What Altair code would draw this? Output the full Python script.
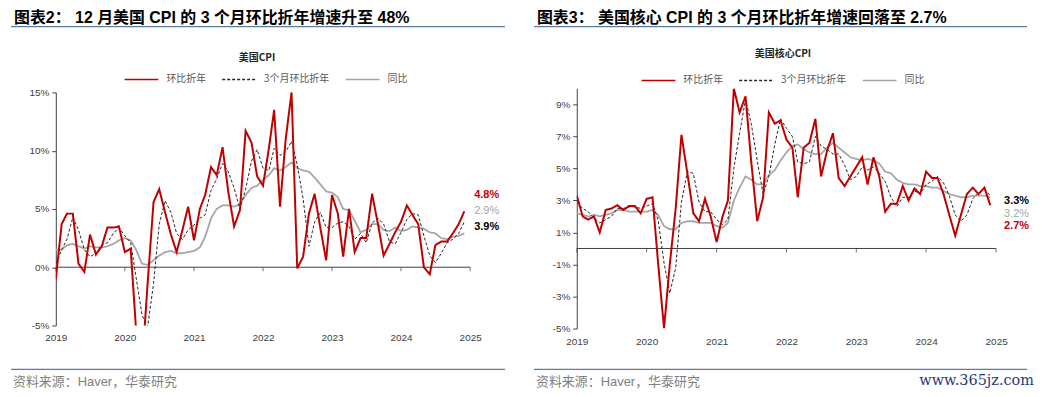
import altair as alt
import pandas as pd

# ---------------- data ----------------
months = pd.date_range("2019-01-01", periods=72, freq="MS")
year_ticks = pd.date_range("2019-01-01", "2025-01-01", freq="YS")

series_names = ["环比折年", "3个月环比折年", "同比"]
series_colors = ["#c00000", "#262626", "#a6a6a6"]
series_dash = [[1, 0], [3, 2], [1, 0]]
series_width = [2.0, 1.0, 1.8]

# 美国CPI (%)
cpi_mom = [-1.0, 3.7, 4.6, 4.6, 0.3, -0.4, 2.8, 1.1, 1.8, 3.4, 3.4, 3.5,
           1.3, 1.6, -5.5, -8.5, -1.3, 5.6, 6.7, 4.7, 2.8, 1.3, 3.2, 5.2,
           2.3, 5.0, 6.2, 8.6, 7.9, 10.3, 6.5, 3.5, 4.9, 11.7, 10.7, 7.8,
           7.0, 10.2, 13.5, 5.2, 11.0, 15.0, -0.1, 0.9, 4.6, 6.3, 3.3, 0.6,
           6.2, 4.6, 0.9, 5.0, 1.3, 2.5, 2.5, 6.3, 3.7, 1.0, 2.0, 3.0,
           3.9, 5.3, 4.5, 3.7, 0.0, -0.6, 1.9, 2.2, 2.2, 2.9, 3.7, 4.8]
cpi_3m = [0.3, 1.5, 2.4, 4.3, 3.2, 1.5, 0.9, 1.2, 1.9, 2.1, 2.9, 3.4,
          2.7, 2.1, -0.9, -4.1, -5.1, -1.4, 3.7, 5.7, 4.7, 2.9, 2.4, 3.2,
          3.6, 4.2, 4.5, 6.6, 7.6, 8.9, 8.2, 6.8, 5.0, 6.7, 9.1, 10.1,
          8.5, 8.3, 10.2, 9.6, 9.9, 10.8, 8.8, 5.9, 1.8, 3.9, 4.7, 3.4,
          3.4, 3.8, 3.9, 3.5, 2.4, 2.9, 2.1, 3.8, 4.2, 3.7, 2.2, 2.0,
          3.0, 4.1, 4.6, 4.5, 2.7, 1.0, 0.4, 1.2, 2.1, 2.4, 2.9, 3.9]
cpi_yoy = [1.5, 1.5, 1.9, 2.0, 1.8, 1.6, 1.8, 1.7, 1.7, 1.8, 2.0, 2.3,
           2.5, 2.3, 1.5, 0.3, 0.2, 0.6, 1.0, 1.3, 1.4, 1.2, 1.2, 1.3,
           1.4, 1.7, 2.6, 4.2, 5.0, 5.3, 5.3, 5.2, 5.4, 6.2, 6.8, 7.0,
           7.5, 7.9, 8.5, 8.3, 8.6, 9.0, 8.5, 8.3, 8.2, 7.7, 7.1, 6.5,
           6.4, 6.0, 5.0, 4.9, 4.0, 3.0, 3.2, 3.7, 3.7, 3.2, 3.1, 3.4,
           3.1, 3.2, 3.5, 3.4, 3.3, 3.0, 2.9, 2.5, 2.4, 2.6, 2.7, 2.9]

# 美国核心CPI (%)
core_mom = [3.3, 2.0, 1.8, 2.0, 1.0, 2.4, 2.5, 2.7, 2.4, 2.65, 2.65, 2.2,
            3.1, 3.2, -0.9, -5.0, -1.0, 2.5, 7.1, 4.7, 2.2, 1.7, 3.1, 2.0,
            0.4, 2.0, 3.0, 10.0, 8.5, 9.5, 5.4, 1.7, 3.2, 8.5, 7.8, 8.0,
            6.8, 6.3, 3.2, 6.3, 6.6, 8.1, 4.5, 6.1, 7.2, 4.4, 3.9, 4.5,
            5.1, 5.7, 4.0, 5.7, 4.5, 2.3, 2.8, 2.8, 3.9, 3.0, 3.75, 3.4,
            4.8, 4.4, 4.4, 3.4, 2.1, 0.8, 2.1, 3.4, 3.8, 3.4, 3.8, 2.7]
core_3m = [2.9, 2.5, 2.3, 1.9, 1.6, 1.8, 2.0, 2.5, 2.5, 2.6, 2.6, 2.5,
           2.65, 2.8, 1.8, -0.9, -2.8, -1.2, 2.9, 4.8, 4.7, 2.9, 2.3, 2.3,
           1.8, 1.5, 1.8, 5.0, 7.2, 9.3, 7.8, 5.5, 3.4, 4.5, 6.5, 8.1,
           7.5, 7.0, 5.4, 5.3, 5.4, 7.0, 6.4, 6.2, 5.9, 5.9, 5.2, 4.3,
           4.5, 5.1, 4.9, 5.1, 4.7, 4.2, 3.2, 2.6, 3.2, 3.2, 3.6, 3.4,
           4.0, 4.2, 4.5, 4.1, 3.3, 2.1, 1.7, 2.1, 3.1, 3.5, 3.7, 3.3]
core_yoy = [2.2, 2.1, 2.0, 2.1, 2.0, 2.1, 2.2, 2.4, 2.4, 2.3, 2.3, 2.3,
            2.3, 2.4, 2.1, 1.4, 1.2, 1.2, 1.6, 1.7, 1.7, 1.6, 1.6, 1.6,
            1.4, 1.3, 1.6, 3.0, 3.8, 4.5, 4.3, 4.0, 4.0, 4.6, 4.9, 5.5,
            6.0, 6.4, 6.5, 6.2, 6.0, 5.9, 5.9, 6.3, 6.6, 6.3, 6.0, 5.7,
            5.6, 5.5, 5.6, 5.5, 5.3, 4.8, 4.7, 4.3, 4.1, 4.0, 4.0, 3.9,
            3.9, 3.8, 3.8, 3.6, 3.4, 3.3, 3.2, 3.2, 3.3, 3.3, 3.3, 3.2]

left_yticks = [-5.0, 0.0, 5.0, 10.0, 15.0]
right_yticks = [-5.0, -3.0, -1.0, 1.0, 3.0, 5.0, 7.0, 9.0]

left_headline = "图表2： 12 月美国 CPI  的 3 个月环比折年增速升至 48%"
right_headline = "图表3： 美国核心 CPI 的 3 个月环比折年增速回落至 2.7%"
left_subtitle = "美国CPI"
right_subtitle = "美国核心CPI"
source_text = "资料来源：Haver，华泰研究"
watermark_text = "www.365jz.com"
left_end_labels = ["4.8%", "2.9%", "3.9%"]
right_end_labels = ["3.3%", "3.2%", "2.7%"]

CJK = "Noto Sans CJK SC"
MIX = "Liberation Sans, Noto Sans CJK SC"
LAT = "Liberation Sans"
AXC = "#404040"
SEP = "#5f7d9b"


def make_df(mom, m3, yoy):
    rows = []
    for name, vals in zip(series_names, [mom, m3, yoy]):
        for d, v in zip(months, vals):
            rows.append({"date": d, "series": name, "value": v})
    return pd.DataFrame(rows)


def one():
    return pd.DataFrame({"a": [0]})


def text(s, x, y, **kw):
    return alt.Chart(pd.DataFrame({"t": [s]})).mark_text(baseline="middle", **kw).encode(
        x=alt.value(x), y=alt.value(y), text="t:N")


def hline(x1, x2, y, color=SEP, width=1.2):
    return alt.Chart(one()).mark_rule(color=color, strokeWidth=width).encode(
        x=alt.value(x1), x2=alt.value(x2), y=alt.value(y))


def panel(df, ydom, yrange, yticks, W, H, lx, ly, label_pad, extras):
    xenc = alt.X("date:T",
                 scale=alt.Scale(domain=[alt.DateTime(year=2019, month=1, date=1),
                                         alt.DateTime(year=2025, month=1, date=1)]),
                 axis=alt.Axis(values=[alt.DateTime(year=y, month=1, date=1) for y in range(2019, 2026)],
                               format="%Y", domain=False, ticks=False, tickSize=0,
                               labelPadding=label_pad, title=None, grid=False,
                               labelFlush=False, labelOverlap=False))
    yaxis = alt.Axis(values=yticks, labelExpr="datum.value + '%'", title=None,
                     grid=False, tickSize=4, labelPadding=3,
                     labelOverlap=False, labelFlush=False, labelSeparation=0,
                     tickCount=len(yticks))
    yscale = alt.Scale(domain=ydom, range=yrange, nice=False, zero=False)
    yenc = alt.Y("value:Q", scale=yscale, axis=yaxis)
    legend = alt.Legend(orient="none", legendX=lx, legendY=ly, direction="horizontal",
                        title=None, symbolType="stroke", symbolSize=1150, symbolStrokeWidth=1.6,
                        labelFont=CJK, labelFontSize=10, labelColor="#595959",
                        columnPadding=12, labelOffset=7, padding=0)
    cscale = alt.Scale(domain=series_names, range=series_colors)
    dscale = alt.Scale(domain=series_names, range=series_dash)

    zero = alt.Chart(one()).mark_rule(color=AXC, strokeWidth=1).encode(
        y=alt.Y(datum=0, scale=yscale, axis=yaxis))
    ticks = alt.Chart(pd.DataFrame({"date": year_ticks})).mark_tick(
        orient="vertical", size=4, thickness=1, yOffset=2, color=AXC).encode(
        x=alt.X("date:T"), y=alt.Y(datum=0, scale=yscale, axis=yaxis))

    lines = []
    for idx in [2, 1, 0]:
        name = series_names[idx]
        lines.append(
            alt.Chart(df).transform_filter(alt.datum.series == name)
            .mark_line(clip=True, strokeWidth=series_width[idx])
            .encode(x=xenc, y=yenc,
                    color=alt.Color("series:N", scale=cscale, legend=legend),
                    strokeDash=alt.StrokeDash("series:N", scale=dscale, legend=legend))
        )
    return alt.layer(zero, ticks, *lines, *extras).properties(width=W, height=H)


# ---------- left panel (plot origin ~ page 55,88; axis spans 92..326) ----------
LW, LH = 416, 238
left_extras = [
    text(left_headline, -42, -71, align="left", font=MIX, fontSize=16, fontWeight="bold", color="#000000"),
    hline(-45, 451, -62),
    text(left_subtitle, 202, -31, align="center", font=CJK, fontSize=10, fontWeight="bold", color="#262626"),
    hline(-45, 451, 282),
    text(source_text, -43, 295, align="left", font=MIX, fontSize=13, color="#7f7f7f"),
    text(left_end_labels[0], 420, 107, align="left", font=LAT, fontSize=11, fontWeight="bold", color="#c00000"),
    text(left_end_labels[1], 420, 123, align="left", font=LAT, fontSize=11, color="#a6a6a6"),
    text(left_end_labels[2], 420, 139, align="left", font=LAT, fontSize=11, fontWeight="bold", color="#000000"),
]
left = panel(make_df(cpi_mom, cpi_3m, cpi_yoy), [-5, 15], [LH, 4], left_yticks, LW, LH,
             68, -27, 7, left_extras)

# ---------- right panel (plot origin ~ page 576,88) ----------
RW, RH = 421, 241
right_extras = [
    text(right_headline, -40, -71, align="left", font=MIX, fontSize=16, fontWeight="bold", color="#000000"),
    hline(-43, 452, -62),
    text(right_subtitle, 207, -35, align="center", font=CJK, fontSize=10, fontWeight="bold", color="#262626"),
    hline(-43, 452, 282),
    text(source_text, -41, 295, align="left", font=MIX, fontSize=13, color="#7f7f7f"),
    text(watermark_text, 459, 294, align="right", font="DejaVu Serif", fontSize=14.5, color="#1f3b78"),
    text(right_end_labels[0], 429, 113, align="left", font=LAT, fontSize=11, fontWeight="bold", color="#000000"),
    text(right_end_labels[1], 429, 126, align="left", font=LAT, fontSize=11, color="#a6a6a6"),
    text(right_end_labels[2], 429, 138, align="left", font=LAT, fontSize=11, fontWeight="bold", color="#c00000"),
]
right = panel(make_df(core_mom, core_3m, core_yoy), [-5, 10], [RH, 0], right_yticks, RW, RH,
              64, -26, 8, right_extras)

chart = (
    alt.hconcat(left, right, spacing=27)
    .resolve_scale(color="independent", strokeDash="independent", x="independent", y="independent")
    .resolve_legend(color="independent", strokeDash="independent")
    .properties(padding={"left": 2, "top": 1, "right": 0, "bottom": 0}, background="white")
    .configure_view(stroke=None)
    .configure_axis(labelFont=LAT, labelFontSize=10, labelColor="#404040",
                    domainColor=AXC, tickColor=AXC, grid=False, labelOverlap=False)
)

chart.save("out.html", embed_options={"renderer": "svg", "actions": False})
